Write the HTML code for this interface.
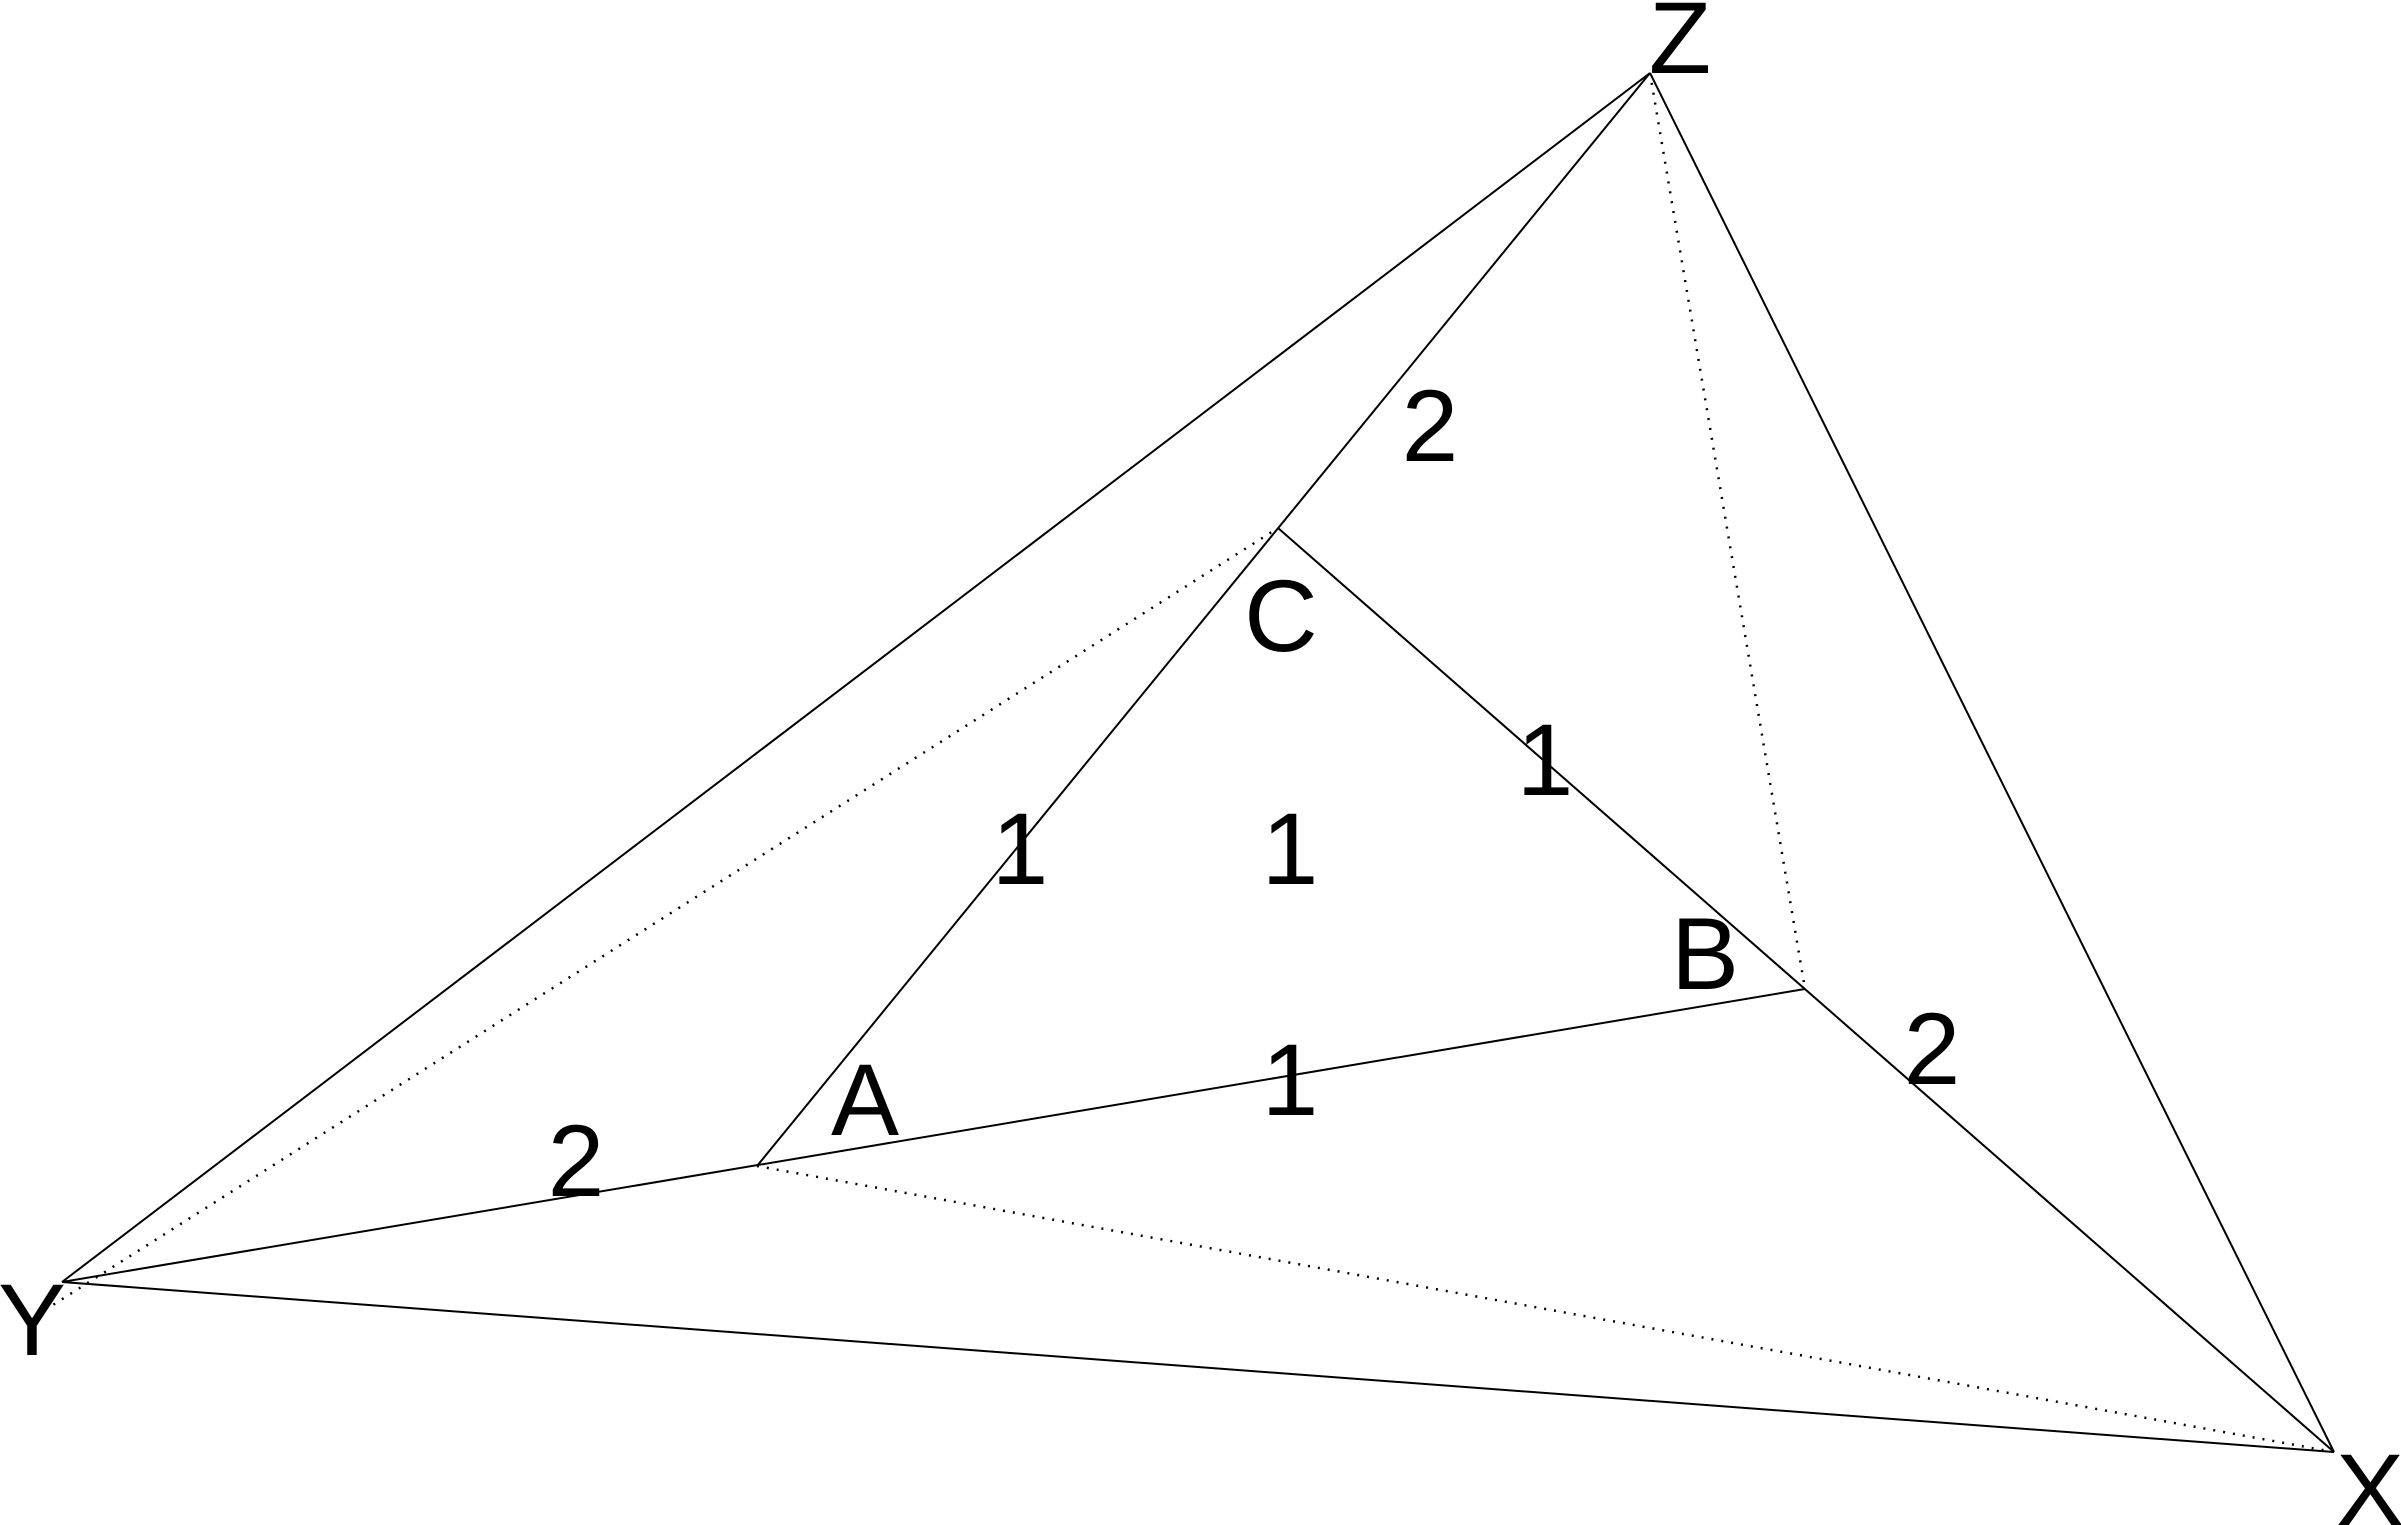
<!DOCTYPE html>
<html><head><meta charset="utf-8"><style>
html,body{margin:0;padding:0;background:#fff;}
svg{display:block;}
text{font-family:"Liberation Sans",sans-serif;font-size:102px;fill:#000;text-anchor:middle;}
</style></head><body>
<svg width="2401" height="1525" viewBox="0 0 2401 1525" xmlns="http://www.w3.org/2000/svg">
<g stroke="#000" stroke-width="2" fill="none">
<line x1="1650" y1="73" x2="62" y2="1282"/>
<line x1="1650" y1="73" x2="2334" y2="1452"/>
<line x1="62" y1="1282" x2="2334" y2="1452"/>
<line x1="1650" y1="73" x2="757" y2="1166"/>
<line x1="1278" y1="528" x2="2334" y2="1452"/>
<line x1="62" y1="1282" x2="1805" y2="989"/>
</g>
<g stroke="#000" stroke-width="2.5" fill="none" stroke-dasharray="2,8">
<line x1="1650" y1="73" x2="1805" y2="989"/>
<line x1="45" y1="1310" x2="1278" y2="528"/>
<line x1="757" y1="1166" x2="2334" y2="1452"/>
</g>
<text x="1680" y="73">Z</text>
<text x="32" y="1355">Y</text>
<text x="2370" y="1525">X</text>
<text x="1281" y="651">C</text>
<text x="1705" y="989">B</text>
<text x="865" y="1135">A</text>
<text x="1430" y="461">2</text>
<text x="1545" y="795">1</text>
<text x="1020" y="884">1</text>
<text x="1290" y="884">1</text>
<text x="1290" y="1115">1</text>
<text x="1932" y="1084">2</text>
<text x="576" y="1196">2</text>
</svg>
</body></html>
